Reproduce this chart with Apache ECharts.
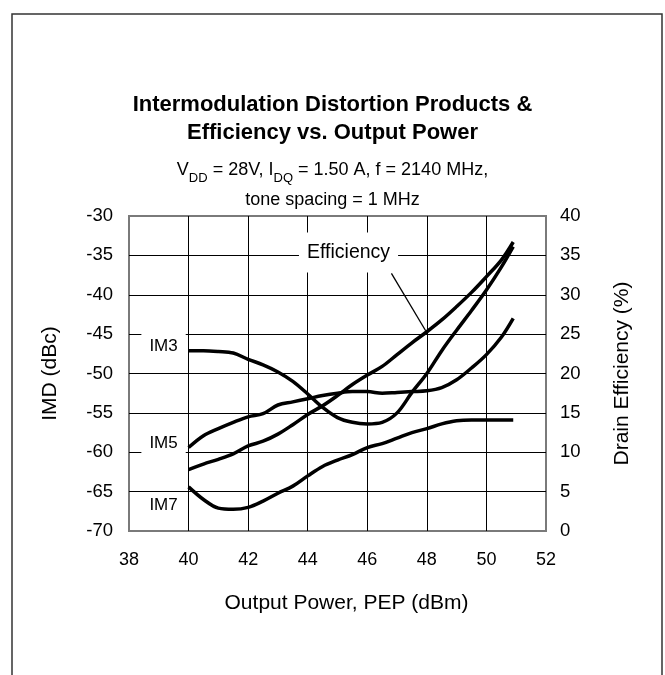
<!DOCTYPE html>
<html>
<head>
<meta charset="utf-8">
<script src="https://cdn.jsdelivr.net/npm/echarts@6/dist/echarts.min.js"></script>
<style>
html,body{margin:0;padding:0;background:#fff;}
#chart{width:665px;height:675px;}
</style>
</head>
<body>
<div id="chart"></div>
<script>
// ---- data ----
const power = [40,40.5,41,41.5,42,42.5,43,43.5,44,44.5,45,45.5,46,46.5,47,47.5,48,48.5,49,49.5,50,50.5,50.9];
const im3 = [-47.1,-47.1,-47.2,-47.4,-48.2,-48.9,-49.8,-51.0,-52.6,-54.3,-55.6,-56.2,-56.4,-56.2,-55.0,-52.4,-50.0,-47.1,-44.5,-42.0,-39.4,-36.5,-33.9];
const im5 = [-59.4,-57.9,-57.0,-56.2,-55.5,-55.1,-54.0,-53.6,-53.2,-52.8,-52.5,-52.3,-52.3,-52.5,-52.4,-52.3,-52.2,-51.8,-50.8,-49.3,-47.6,-45.4,-43.0];
const im7 = [-64.4,-66.0,-67.1,-67.25,-67.0,-66.2,-65.2,-64.3,-63.0,-61.8,-61.0,-60.3,-59.4,-58.9,-58.2,-57.5,-57.0,-56.4,-56.0,-55.9,-55.9,-55.9,-55.9];
const efficiency = [7.8,8.5,9.1,9.8,10.8,11.4,12.3,13.5,14.8,15.9,17.2,18.6,19.8,20.9,22.4,23.9,25.3,26.8,28.5,30.3,32.3,34.4,36.7];

const xTicks = [38,40,42,44,46,48,50,52];
const imdTicks = [-70,-65,-60,-55,-50,-45,-40,-35,-30];
const effTicks = [0,5,10,15,20,25,30,35,40];

// annotation labels (data coordinates on the IMD axis)
const curveLabels = ['IM3','IM5','IM7'];
const curveLabelX = [39.16,39.16,39.16];
const curveLabelY = [-46.5,-58.9,-66.76];
const effLabel = 'Efficiency';
const effLabelPos = [45.37,-34.63];
const effLeaderX = [46.81,47.96];
const effLeaderY = [-37.28,-44.57];

const titleText = 'Intermodulation Distortion Products &\nEfficiency vs. Output Power';
const subText = 'V{sub|DD} = 28V, I{sub|DQ} = 1.50 A, f = 2140 MHz,\ntone spacing = 1 MHz';
const xName = 'Output Power, PEP (dBm)';
const yName = 'IMD (dBc)';
const y2Name = 'Drain Efficiency (%)';

// ---- chart ----
const FONT = '"Liberation Sans", Arial, sans-serif';
const pairs = ys => power.map((x,i)=>[x, ys[i]]);
const chart = echarts.init(document.getElementById('chart'), null, {renderer:'canvas'});

const curveStyle = {color:'#000', width:3.5};
const lineSeries = (name, ys, axis) => ({
  name, type:'line', yAxisIndex: axis, data: pairs(ys), smooth: 0.35,
  symbol:'none', lineStyle: curveStyle, itemStyle:{color:'#000'}, z: 5, silent: true
});

const labelPads = [[5,8,4,8],[4,8,3,8],[2,8,2,8]];

chart.setOption({
  animation:false,
  backgroundColor:'#fff',
  textStyle:{fontFamily:FONT, color:'#000'},
  title:[
    {text:titleText, left:'center', top:86,
     textStyle:{fontFamily:FONT, fontSize:22, fontWeight:'bold', color:'#000', lineHeight:28}},
    {text:subText, left:'center', top:150,
     textStyle:{fontFamily:FONT, fontSize:18, fontWeight:'normal', color:'#000', lineHeight:30,
       rich:{sub:{fontFamily:FONT, fontSize:13, color:'#000', verticalAlign:'bottom', lineHeight:22}}}}
  ],
  graphic:[
    {type:'rect', shape:{x:12, y:14, width:650, height:700}, style:{fill:'none', stroke:'#333', lineWidth:1.5}, z:-1}
  ],
  grid:{left:129, right:119, top:216, bottom:144, show:true, borderColor:'#7a7a7a', borderWidth:2, containLabel:false},
  xAxis:{
    type:'value', min:xTicks[0], max:xTicks[xTicks.length-1], interval:2,
    name:xName, nameLocation:'middle', nameGap:62,
    nameTextStyle:{fontFamily:FONT, fontSize:21, color:'#000', padding:[0,0,0,18]},
    axisLine:{show:false}, axisTick:{show:false},
    axisLabel:{fontFamily:FONT, fontSize:18, color:'#000', margin:20},
    splitLine:{show:true, showMinLine:false, showMaxLine:false, lineStyle:{color:'#000', width:1}}
  },
  yAxis:[
    {type:'value', min:imdTicks[0], max:imdTicks[imdTicks.length-1], interval:5,
     name:yName, nameLocation:'middle', nameGap:68, nameRotate:90,
     nameTextStyle:{fontFamily:FONT, fontSize:21, color:'#000'},
     axisLine:{show:false}, axisTick:{show:false},
     axisLabel:{fontFamily:FONT, fontSize:18.5, color:'#000', margin:16},
     splitLine:{show:true, showMinLine:false, showMaxLine:false, lineStyle:{color:'#000', width:1}}},
    {type:'value', min:effTicks[0], max:effTicks[effTicks.length-1], interval:5, position:'right',
     name:y2Name, nameLocation:'middle', nameGap:66, nameRotate:90,
     nameTextStyle:{fontFamily:FONT, fontSize:21, color:'#000'},
     axisLine:{show:false}, axisTick:{show:false},
     axisLabel:{fontFamily:FONT, fontSize:18.5, color:'#000', margin:14},
     splitLine:{show:false}}
  ],
  series:[
    lineSeries('IM3', im3, 0),
    lineSeries('IM5', im5, 0),
    lineSeries('IM7', im7, 0),
    lineSeries('Efficiency', efficiency, 1),
    {type:'line', yAxisIndex:0, data: effLeaderX.map((x,i)=>[x, effLeaderY[i]]), symbol:'none',
     lineStyle:{color:'#000', width:1.3}, itemStyle:{color:'#000'}, z:4, silent:true},
    {type:'scatter', yAxisIndex:0, symbolSize:0, z:3, silent:true, itemStyle:{color:'#000', opacity:1},
     data: curveLabels.map((n,i)=>({name:n, value:[curveLabelX[i], curveLabelY[i]],
       label:{padding:labelPads[i]}})),
     label:{show:true, position:'inside', formatter:p=>p.name, fontFamily:FONT, fontSize:17,
       color:'#000', opacity:1, textBorderWidth:0, backgroundColor:'#fff'}},
    {type:'scatter', yAxisIndex:0, symbolSize:0, z:3, silent:true, itemStyle:{color:'#000', opacity:1},
     data:[{name:effLabel, value:effLabelPos}],
     label:{show:true, position:'inside', formatter:p=>p.name, fontFamily:FONT, fontSize:19.5,
       color:'#000', opacity:1, textBorderWidth:0, backgroundColor:'#fff', padding:[10,8,10,8]}}
  ]
});
</script>
</body>
</html>
